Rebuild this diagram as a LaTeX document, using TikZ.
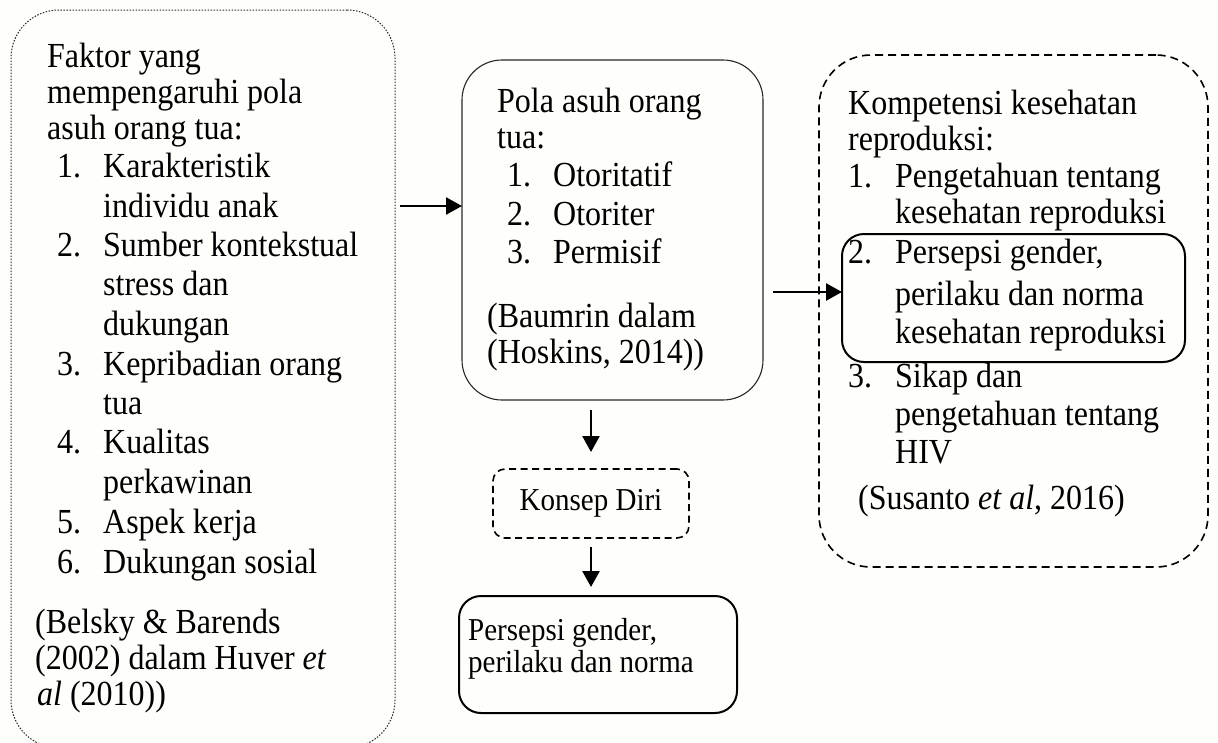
\documentclass[tikz,border=0pt]{standalone}
\usepackage{fontspec}
\setmainfont{Liberation Serif}
\usetikzlibrary{arrows.meta}
\definecolor{bgc}{RGB}{254,254,250}
\definecolor{linec}{RGB}{40,40,40}
\newcommand{\numit}[2]{\makebox[#1][l]{#2}}
\newcommand{\tall}[1]{\scalebox{1}[1.1]{#1}}
\begin{document}
\begin{tikzpicture}[x=1pt,y=-1pt,
  txt/.style={anchor=base west, inner sep=0pt, font=\fontsize{32}{38}\selectfont},
  txs/.style={anchor=base west, inner sep=0pt, font=\fontsize{29}{33}\selectfont},
  box/.style={draw, inner sep=0pt, outer sep=0pt},
  dotbox/.style={box, draw=linec, line width=1pt, dash pattern=on 1.5pt off 1.5pt, rounded corners=48pt},
  thinbox/.style={box, draw=linec, line width=1.1pt, rounded corners=40pt},
  dashbox/.style={box, draw=black, line width=1.6pt, dash pattern=on 8pt off 5pt, rounded corners=52pt},
  boldbox/.style={box, draw=black, line width=2pt, rounded corners=22pt},
  arr/.style={-{Triangle[length=16pt,width=17pt]}, line width=2.6pt, draw=black}
]
\useasboundingbox (0,0) rectangle (1218,742);
\fill[bgc] (0,0) rectangle (1218,742);

% boxes
\node[dotbox, minimum width=384pt, minimum height=738pt] (lbox) at (203,379) {};
\node[thinbox, minimum width=301pt, minimum height=340pt] (cbox) at (612.5,230) {};
\node[dashbox, minimum width=389pt, minimum height=512pt] (rbox) at (1013.5,311) {};
\node[boldbox, minimum width=343pt, minimum height=128pt] (ibox) at (1013.5,298) {};
\node[box, draw=black, line width=1.6pt, dash pattern=on 7pt off 4.5pt, rounded corners=12pt,
      minimum width=196pt, minimum height=69pt, font=\fontsize{29}{33}\selectfont] (kbox) at (591,503.5) {\tall{Konsep Diri}};
\node[boldbox, minimum width=278pt, minimum height=117pt] (bbox) at (598,654.5) {};

% left text
\node[txt] (l1) at (47,67) {\tall{Faktor yang}};
\node[txt] (l2) at (47,103) {\tall{mempengaruhi pola}};
\node[txt] (l3) at (47,139) {\tall{asuh orang tua:}};
\node[txt] (l4) at (57,177) {\tall{\numit{46pt}{1.}Karakteristik}};
\node[txt] (l5) at (103,217) {\tall{individu anak}};
\node[txt] (l6) at (57,256) {\tall{\numit{46pt}{2.}Sumber kontekstual}};
\node[txt] (l7) at (103,295) {\tall{stress dan}};
\node[txt] (l8) at (103,335) {\tall{dukungan}};
\node[txt] (l9) at (57,375) {\tall{\numit{46pt}{3.}Kepribadian orang}};
\node[txt] (l10) at (103,414) {\tall{tua}};
\node[txt] (l11) at (57,453) {\tall{\numit{46pt}{4.}Kualitas}};
\node[txt] (l12) at (103,493) {\tall{perkawinan}};
\node[txt] (l13) at (57,533) {\tall{\numit{46pt}{5.}Aspek kerja}};
\node[txt] (l14) at (57,573) {\tall{\numit{46pt}{6.}Dukungan sosial}};
\node[txt] (l15) at (35,633) {\tall{(Belsky \& Barends}};
\node[txt] (l16) at (35,669) {\tall{(2002) dalam Huver \textit{et}}};
\node[txt] (l17) at (37,705) {\tall{\textit{al} (2010))}};

% center text
\node[txt] (c1) at (497,112) {\tall{Pola asuh orang}};
\node[txt] (c2) at (497,148) {\tall{tua:}};
\node[txt] (c3) at (507,186) {\tall{\numit{46pt}{1.}Otoritatif}};
\node[txt] (c4) at (507,225) {\tall{\numit{46pt}{2.}Otoriter}};
\node[txt] (c5) at (507,263) {\tall{\numit{46pt}{3.}Permisif}};
\node[txt] (c6) at (487,327) {\tall{(Baumrin dalam}};
\node[txt] (c7) at (487,363) {\tall{(Hoskins, 2014))}};

% right text
\node[txt] (r1) at (848,114) {\tall{Kompetensi kesehatan}};
\node[txt] (r2) at (848,150) {\tall{reproduksi:}};
\node[txt] (r3) at (848,187) {\tall{\numit{47pt}{1.}Pengetahuan tentang}};
\node[txt] (r4) at (895,223) {\tall{kesehatan reproduksi}};
\node[txt] (r5) at (848,263) {\tall{\numit{47pt}{2.}Persepsi gender,}};
\node[txt] (r6) at (895,305) {\tall{perilaku dan norma}};
\node[txt] (r7) at (895,343) {\tall{kesehatan reproduksi}};
\node[txt] (r8) at (848,387) {\tall{\numit{47pt}{3.}Sikap dan}};
\node[txt] (r9) at (895,425) {\tall{pengetahuan tentang}};
\node[txt] (r10) at (895,463) {\tall{HIV}};
\node[txt] (r11) at (858,509) {\tall{(Susanto \textit{et al}, 2016)}};

% bottom text
\node[txs] (b1) at (468,640) {\tall{Persepsi gender,}};
\node[txs] (b2) at (468,672) {\tall{perilaku dan norma}};

% arrows
\coordinate (ya) at (0,206);
\coordinate (yb) at (0,292);
\draw[arr, shorten <=5pt] (lbox.east |- ya) -- (cbox.west |- ya);
\draw[arr, shorten <=10pt] (cbox.east |- yb) -- (ibox.west |- yb);
\draw[arr, shorten <=10pt, shorten >=17pt] (kbox.north |- cbox.south) -- (kbox.north);
\draw[arr, shorten <=9pt, shorten >=9pt] (kbox.south) -- (kbox.south |- bbox.north);
\end{tikzpicture}
\end{document}
